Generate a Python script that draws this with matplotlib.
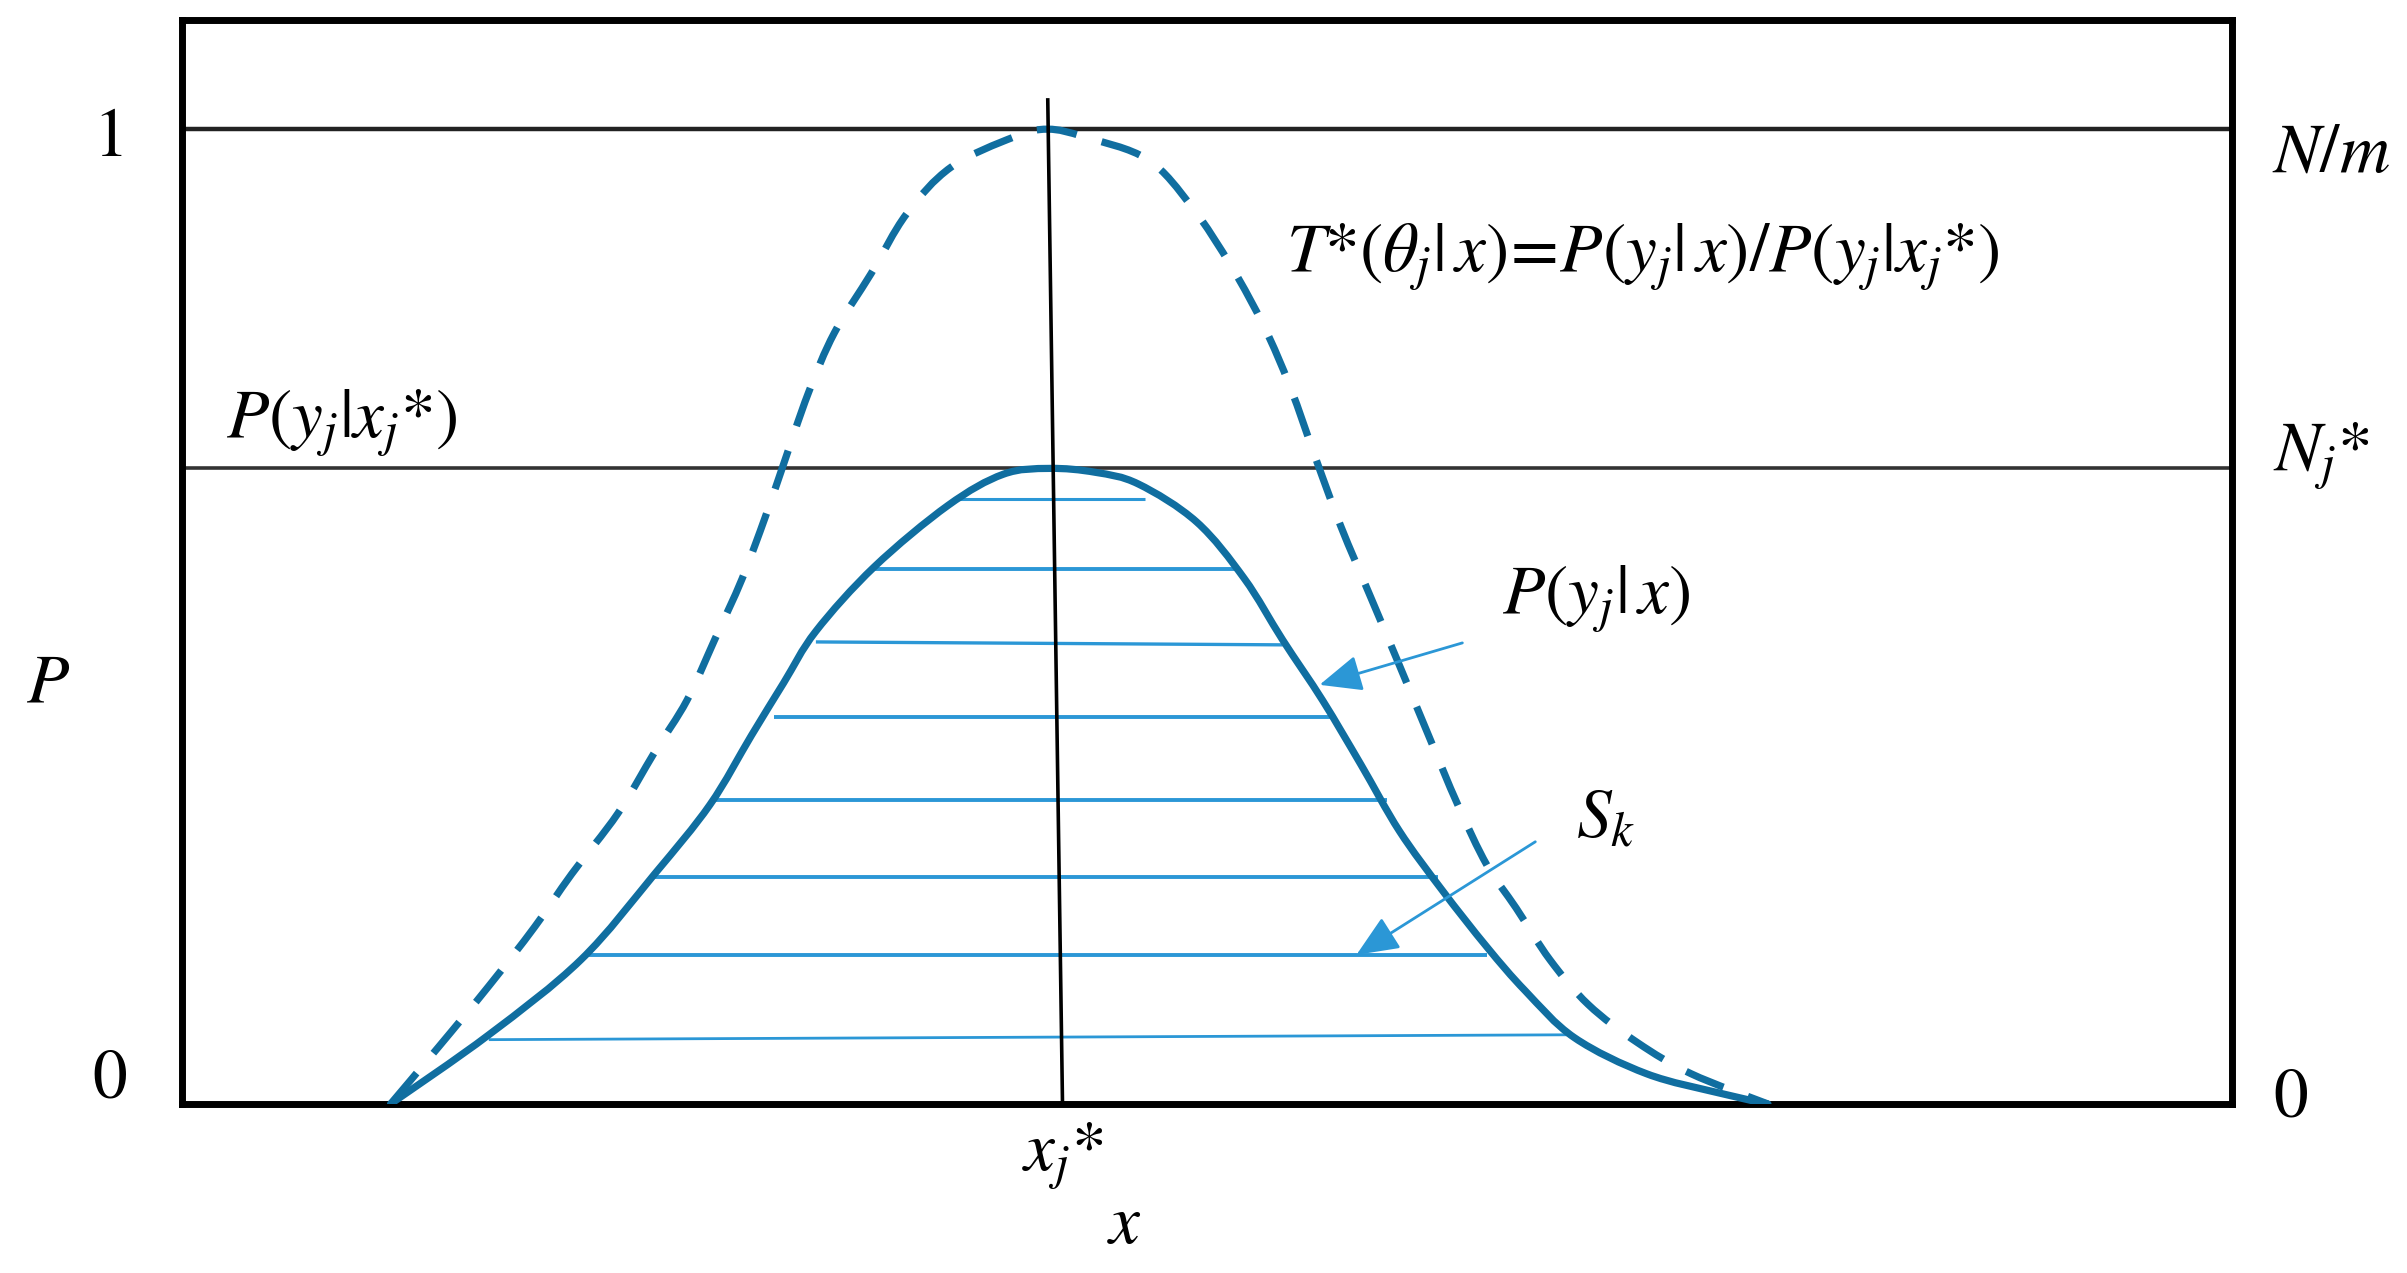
import matplotlib
matplotlib.use("Agg")
import matplotlib.pyplot as plt
from matplotlib.path import Path
from matplotlib.patches import PathPatch

plt.rcParams['mathtext.fontset'] = 'stix'
plt.rcParams['font.family'] = ['STIXGeneral', 'DejaVu Sans']

# ---------------- data ----------------
# solid curve P(y_j | x)
solid_x = [1.36, 2.00, 2.60, 3.08, 3.44, 3.71, 3.92, 4.13, 4.51, 4.99, 5.35, 5.65,
           5.95, 6.23, 6.61, 6.92, 7.17, 7.43, 7.68, 7.93, 8.21, 8.50, 8.75, 9.07,
           9.54, 10.02, 10.33]
solid_y = [0.000, 0.071, 0.148, 0.236, 0.307, 0.378, 0.432, 0.485, 0.551, 0.614, 0.646, 0.652,
           0.648, 0.636, 0.597, 0.539, 0.476, 0.414, 0.348, 0.280, 0.219, 0.161, 0.116, 0.068,
           0.031, 0.011, 0.000]

# dashed curve T*(theta_j | x)
dashed_x = [1.36, 1.67, 2.00, 2.30, 2.54, 2.84, 3.08, 3.29, 3.47, 3.65, 3.80, 3.91, 4.08,
            4.25, 4.49, 4.72, 5.01, 5.42, 5.64, 5.88, 6.29, 6.58, 6.84, 7.05, 7.22, 7.39,
            7.55, 7.74, 7.93, 8.12, 8.31, 8.50, 8.69, 8.91, 9.16, 9.48, 9.83, 10.33]
dashed_y = [0.000, 0.058, 0.121, 0.182, 0.236, 0.298, 0.361, 0.414, 0.476, 0.539, 0.602, 0.652, 0.729,
            0.791, 0.852, 0.913, 0.961, 0.992, 1.000, 0.992, 0.969, 0.920, 0.858, 0.797, 0.735, 0.660,
            0.592, 0.521, 0.450, 0.378, 0.307, 0.245, 0.201, 0.148, 0.102, 0.063, 0.031, 0.000]

# horizontal hatch lines S_k
hatch_x_left = [5.02, 4.51, 4.13, 3.86, 3.47, 3.04, 2.65, 2.00]
hatch_x_right = [6.27, 6.86, 7.17, 7.52, 7.85, 8.18, 8.50, 9.05]
hatch_y_left = [0.621, 0.549, 0.474, 0.397, 0.312, 0.233, 0.153, 0.066]
hatch_y_right = [0.621, 0.549, 0.471, 0.397, 0.312, 0.233, 0.153, 0.071]

# reference levels
level_one = 1.0          # N/m
level_peak = 0.652       # N_j*

# vertical line at x_j*
vline_x = [5.64, 5.736]
vline_y = [1.030, 0.0]

# arrows (tail -> tip)
arrow_tail = [(8.34, 0.473), (8.815, 0.269)]
arrow_tip = [(7.41, 0.430), (7.65, 0.153)]


def smooth_path(xs, ys):
    """Catmull-Rom curve through the given points, drawn as cubic Bezier segments."""
    pts = list(zip(xs, ys))
    verts = [pts[0]]
    codes = [Path.MOVETO]
    n = len(pts)
    for i in range(n - 1):
        p0 = pts[i - 1] if i > 0 else pts[i]
        p1 = pts[i]
        p2 = pts[i + 1]
        p3 = pts[i + 2] if i + 2 < n else pts[i + 1]
        c1 = (p1[0] + (p2[0] - p0[0]) / 6.0, p1[1] + (p2[1] - p0[1]) / 6.0)
        c2 = (p2[0] - (p3[0] - p1[0]) / 6.0, p2[1] - (p3[1] - p1[1]) / 6.0)
        verts += [c1, c2, p2]
        codes += [Path.CURVE4] * 3
    return Path(verts, codes)


# ---------------- figure ----------------
W, H = 2407, 1273
fig = plt.figure(figsize=(W / 100, H / 100), dpi=100)
ax = fig.add_axes([0.07549, 0.13276, 0.92717 - 0.07549, 0.98429 - 0.13276])
ax.set_xlim(0, 13.35)
ax.set_ylim(0, 1.112)
ax.set_xticks([])
ax.set_yticks([])
for s in ax.spines.values():
    s.set_linewidth(5)
    s.set_color('black')

dark_blue = '#106ea0'
light_blue = '#2b97d6'

# reference lines
ax.axhline(level_one, color='#222222', lw=3.2, zorder=2)
ax.axhline(level_peak, color='#333333', lw=2.6, zorder=2)
ax.plot(vline_x, vline_y, color='black', lw=2.6, zorder=5, clip_on=False)

# hatch lines
hatch_lw = [2.2, 2.8, 2.4, 2.8, 2.8, 2.8, 2.8, 2.0]
for xl, xr, yl, yr, lw in zip(hatch_x_left, hatch_x_right, hatch_y_left, hatch_y_right, hatch_lw):
    ax.plot([xl, xr], [yl, yr], color=light_blue, lw=lw, solid_capstyle='butt', zorder=3)

# curves
solid_patch = PathPatch(smooth_path(solid_x, solid_y), fill=False, edgecolor=dark_blue,
                        lw=5.2, joinstyle='round', capstyle='round', zorder=4)
ax.add_patch(solid_patch)
dashed_patch = PathPatch(smooth_path(dashed_x, dashed_y), fill=False, edgecolor=dark_blue,
                         lw=5.2, linestyle=(0, (5.6, 3.6)), capstyle='butt', zorder=4)
ax.add_patch(dashed_patch)

# arrows
for (tx, ty), (hx, hy) in zip(arrow_tail, arrow_tip):
    ax.annotate('', xy=(hx, hy), xytext=(tx, ty),
                arrowprops=dict(arrowstyle='-|>,head_length=0.65,head_width=0.28',
                                mutation_scale=40, color=light_blue, lw=2.0,
                                shrinkA=0, shrinkB=0),
                zorder=6)

# ---------------- text ----------------
fs = 50
kw = dict(fontsize=fs, color='black', clip_on=False)
ax.text(-0.485, 0.972, '$1$', ha='center', va='baseline', **kw)
ax.text(-0.47, 0.007, '$0$', ha='center', va='baseline', **kw)
ax.text(-0.87, 0.413, '$P$', ha='center', va='baseline', **kw)
ax.text(13.73, -0.013, '$0$', ha='center', va='baseline', **kw)
ax.text(13.61, 0.956, '$N/m$', ha='left', va='baseline', **kw)
ax.text(13.62, 0.650, '$N_j{*}$', ha='left', va='baseline', **kw)
ax.text(5.74, -0.068, '$x_j{*}$', ha='center', va='baseline', **kw)
ax.text(6.14, -0.143, '$x$', ha='center', va='baseline', **kw)
ax.text(0.286, 0.683, '$P(y_j|x_j{*})$', ha='left', va='baseline', **kw)
ax.text(7.19, 0.854, r'$T{*}(\theta_j|\,x)\!=\!P(y_j|\,x)/P(y_j|x_j{*})$',
        ha='left', va='baseline', fontsize=50, color='black')
ax.text(8.595, 0.503, r'$P(y_j|\,x)$', ha='left', va='baseline', **kw)
ax.text(9.08, 0.274, '$S_k$', ha='left', va='baseline', **kw)

fig.savefig('out.png', dpi=100, facecolor='white')
